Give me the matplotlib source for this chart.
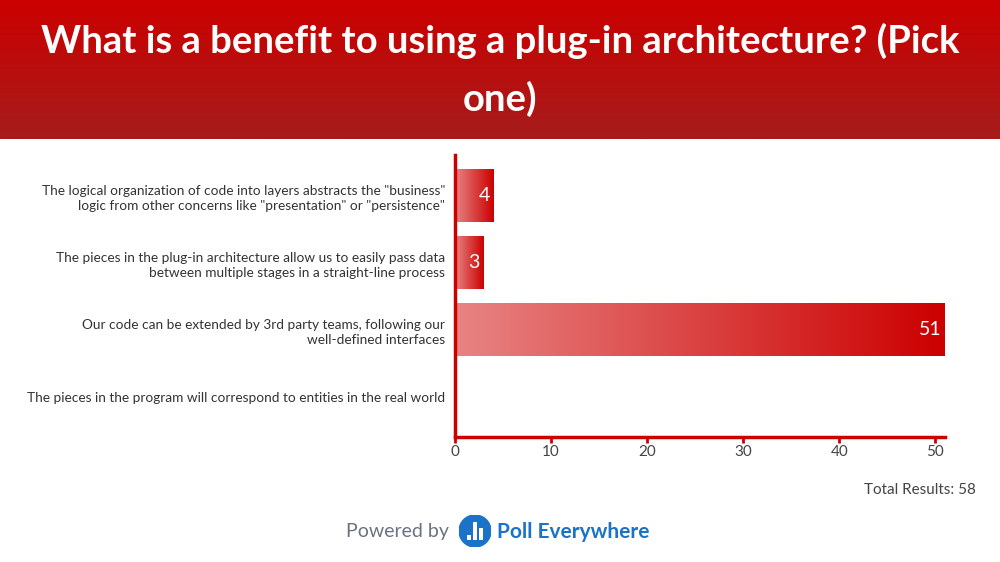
import numpy as np
import matplotlib
matplotlib.use("Agg")
from matplotlib import pyplot as plt
from matplotlib.colors import LinearSegmentedColormap
from matplotlib.patches import Circle, Rectangle

# data
title = "What is a benefit to using a plug-in architecture? (Pick\none)"
answers = [
    'The logical organization of code into layers abstracts the "business"\nlogic from other concerns like "presentation" or "persistence"',
    "The pieces in the plug-in architecture allow us to easily pass data\nbetween multiple stages in a straight-line process",
    "Our code can be extended by 3rd party teams, following our\nwell-defined interfaces",
    "The pieces in the program will correspond to entities in the real world",
]
votes = [4, 3, 51, 0]
x_ticks = [0, 10, 20, 30, 40, 50]
total = 58

plt.rcParams['font.family'] = ['Lato', 'DejaVu Sans']

fig = plt.figure(figsize=(10, 5.62), dpi=100)
fig.patch.set_facecolor("white")

# header band with a vertical gradient
head = fig.add_axes([0, 1 - 139 / 562, 1, 139 / 562])
head_cmap = LinearSegmentedColormap.from_list("head", ["#cc0000", "#a61c1c"])
head.imshow(np.linspace(0, 1, 100).reshape(-1, 1), aspect="auto", cmap=head_cmap,
            extent=[0, 1, 1, 0])
head.set_xlim(0, 1)
head.set_ylim(1, 0)
head.axis("off")
fig.text(0.5, 1 - 70 / 562, title, ha="center", va="center", color="white",
         fontsize=27.5, fontweight="bold", linespacing=1.72)

# chart
ax = fig.add_axes([0.455, 0.2224, 0.49, 0.5018])
bar_cmap = LinearSegmentedColormap.from_list("bar", ["#e88484", "#cc0000"])
grad = np.linspace(0, 1, 256).reshape(1, -1)
h = 0.79
for i, v in enumerate(votes):
    if v <= 0:
        continue
    ax.imshow(grad, aspect="auto", cmap=bar_cmap,
              extent=[0, v, i + h / 2, i - h / 2], zorder=2)
    ax.text(v - 0.4, i, str(v), ha="right", va="center", color="white",
            fontsize=14, zorder=3)

ax.set_xlim(0, 51)
ax.set_ylim(3.6, -0.61)
ax.set_yticks(range(len(answers)))
ax.set_yticklabels(answers, fontsize=9.8, color="#333333", linespacing=1.3)
ax.tick_params(axis="y", length=0, pad=7)
ax.set_xticks(x_ticks)
ax.set_xticklabels([str(t) for t in x_ticks], fontsize=11, color="#444444")
ax.tick_params(axis="x", length=4, width=2, color="#cc0000", pad=2)
for s in ["top", "right"]:
    ax.spines[s].set_visible(False)
for s in ["left", "bottom"]:
    ax.spines[s].set_color("#cc0000")
    ax.spines[s].set_linewidth(2.5)
ax.set_facecolor("none")

fig.text(0.976, 1 - 490 / 562, "Total Results: %d" % total, ha="right", va="center",
         fontsize=11, color="#444444")

# footer
fig.text(0.449, 1 - 532 / 562, "Powered by", ha="right", va="center",
         fontsize=14, color="#6b7280")
logo = fig.add_axes([0.459, 1 - 547 / 562, 0.032, 0.032 * 1000 / 562])
logo.set_xlim(0, 1)
logo.set_ylim(0, 1)
logo.axis("off")
logo.add_patch(Circle((0.5, 0.5), 0.5, color="#1a73c8"))
logo.add_patch(Rectangle((0.25, 0.22), 0.12, 0.14, color="white", lw=0))
logo.add_patch(Rectangle((0.44, 0.22), 0.12, 0.56, color="white", lw=0))
logo.add_patch(Rectangle((0.63, 0.22), 0.12, 0.38, color="white", lw=0))
fig.text(0.497, 1 - 532 / 562, "Poll Everywhere", ha="left", va="center",
         fontsize=15, fontweight="bold", color="#1a73c8")

fig.savefig("out.png", dpi=100)
